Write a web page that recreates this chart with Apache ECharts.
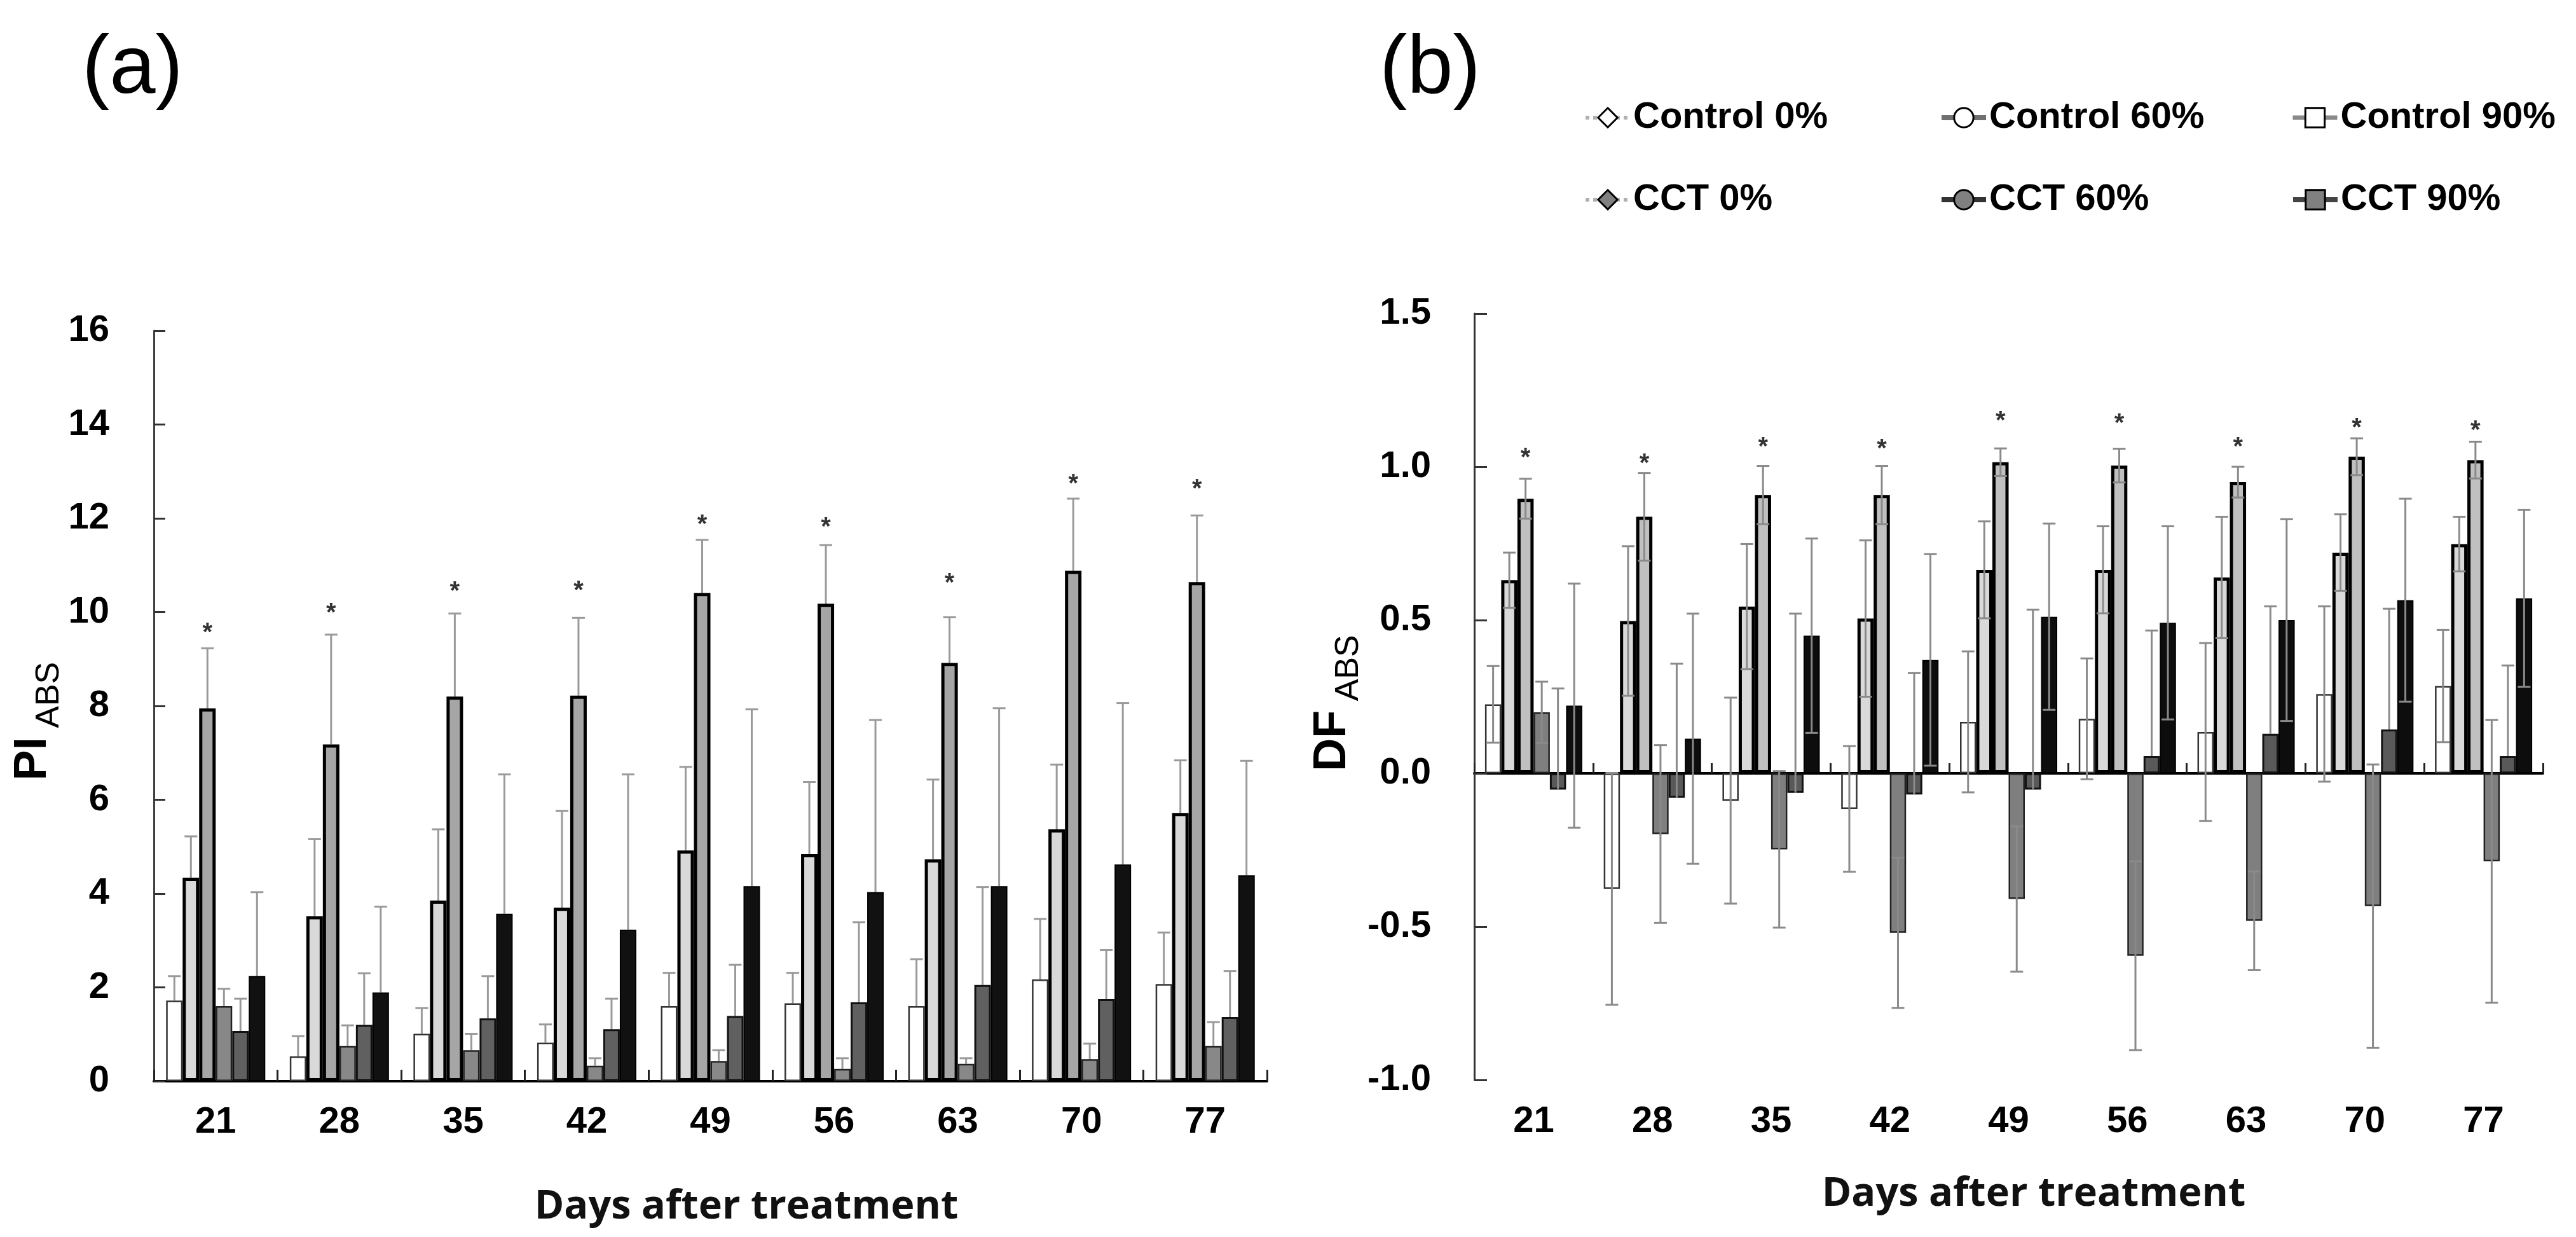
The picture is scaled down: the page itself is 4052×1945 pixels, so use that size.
<!DOCTYPE html>
<html><head><meta charset="utf-8">
<script src="https://cdn.jsdelivr.net/npm/echarts@6/dist/echarts.min.js"></script>
<style>html,body{margin:0;padding:0;background:#fff}#c{width:4052px;height:1945px}</style>
</head><body><div id="c"></div>
<script>
// ---------- data ----------
const days = ['21', '28', '35', '42', '49', '56', '63', '70', '77'];
const seriesNames = ['Control 0%', 'Control 60%', 'Control 90%', 'CCT 0%', 'CCT 60%', 'CCT 90%'];
const yTicksA = { min: 0, max: 16, interval: 2 };
const yTicksB = { min: -1, max: 1.5, interval: 0.5 };

// Panel (a): PI_ABS means and SE
const piControl0 = [1.72, 0.53, 1.01, 0.82, 1.60, 1.66, 1.60, 2.17, 2.07];
const piControl0Err = [0.52, 0.43, 0.55, 0.39, 0.71, 0.65, 1.00, 1.29, 1.10];
const piControl60 = [4.34, 3.52, 3.85, 3.70, 4.92, 4.84, 4.73, 5.37, 5.72];
const piControl60Err = [0.88, 1.64, 1.52, 2.06, 1.78, 1.54, 1.70, 1.38, 1.12];
const piControl90 = [7.95, 7.18, 8.20, 8.22, 10.41, 10.18, 8.92, 10.88, 10.64];
const piControl90Err = [1.28, 2.34, 1.77, 1.66, 1.13, 1.25, 0.97, 1.54, 1.42];
const piCct0 = [1.60, 0.75, 0.66, 0.33, 0.43, 0.26, 0.37, 0.47, 0.75];
const piCct0Err = [0.37, 0.44, 0.35, 0.16, 0.23, 0.23, 0.12, 0.33, 0.51];
const piCct60 = [1.07, 1.20, 1.34, 1.11, 1.39, 1.68, 2.05, 1.75, 1.37];
const piCct60Err = [0.69, 1.10, 0.90, 0.65, 1.09, 1.71, 2.09, 1.05, 0.98];
const piCct90 = [2.24, 1.89, 3.57, 3.23, 4.16, 4.03, 4.16, 4.62, 4.39];
const piCct90Err = [1.79, 1.83, 2.97, 3.31, 3.77, 3.67, 3.79, 3.44, 2.44];
const piStar = [9.68, 10.10, 10.56, 10.58, 11.99, 11.93, 10.74, 12.86, 12.75];

// Panel (b): DF_ABS means and SE
const dfControl0 = [0.225, -0.377, -0.089, -0.116, 0.168, 0.178, 0.135, 0.259, 0.285];
const dfControl0Err = [0.125, 0.378, 0.336, 0.205, 0.230, 0.197, 0.290, 0.286, 0.183];
const dfControl60 = [0.630, 0.497, 0.544, 0.505, 0.664, 0.664, 0.639, 0.720, 0.748];
const dfControl60Err = [0.090, 0.244, 0.204, 0.255, 0.158, 0.142, 0.198, 0.125, 0.089];
const dfControl90 = [0.896, 0.837, 0.908, 0.908, 1.015, 1.004, 0.950, 1.033, 1.022];
const dfControl90Err = [0.065, 0.143, 0.095, 0.095, 0.045, 0.055, 0.050, 0.060, 0.060];
const dfCct0 = [0.199, -0.198, -0.248, -0.520, -0.410, -0.595, -0.481, -0.433, -0.287];
const dfCct0Err = [0.100, 0.290, 0.255, 0.245, 0.237, 0.308, 0.161, 0.462, 0.461];
const dfCct60 = [-0.053, -0.080, -0.064, -0.069, -0.053, 0.056, 0.129, 0.143, 0.056];
const dfCct60Err = [0.330, 0.438, 0.585, 0.396, 0.587, 0.410, 0.416, 0.394, 0.296];
const dfCct90 = [0.221, 0.113, 0.449, 0.370, 0.511, 0.491, 0.500, 0.565, 0.571];
const dfCct90Err = [0.398, 0.408, 0.317, 0.345, 0.304, 0.315, 0.329, 0.331, 0.289];
const dfStar = [1.047, 1.029, 1.083, 1.077, 1.168, 1.159, 1.084, 1.145, 1.137];

// ---------- styling ----------
const FONT = 'Liberation Sans, Arial, sans-serif';
const NAMEFONT = 'Open Sans, Lato, sans-serif';
const piMeans = [piControl0, piControl60, piControl90, piCct0, piCct60, piCct90];
const piErrs = [piControl0Err, piControl60Err, piControl90Err, piCct0Err, piCct60Err, piCct90Err];
const dfMeans = [dfControl0, dfControl60, dfControl90, dfCct0, dfCct60, dfCct90];
const dfErrs = [dfControl0Err, dfControl60Err, dfControl90Err, dfCct0Err, dfCct60Err, dfCct90Err];
// minus whisker drawn? (panel b); panel a draws only the plus whisker
const dfMinusShown = [true, true, true, true, false, true];

const fillA = ['#ffffff', '#d9d9d9', '#a6a6a6', '#888888', '#606060', '#111111'];
const fillB = ['#ffffff', '#d9d9d9', '#c0c0c0', '#7f7f7f', '#595959', '#0d0d0d'];
const borderW = [2.5, 5, 5, 2.5, 3, 2];
const borderC = ['#333', '#000', '#000', '#222', '#111', '#000'];

const legendLine = [
  { color: '#b0b0b0', width: 6, type: 'dotted' },
  { color: '#707070', width: 8, type: 'solid' },
  { color: '#8a8a8a', width: 7, type: 'solid' },
  { color: '#b0b0b0', width: 6, type: 'dotted' },
  { color: '#333333', width: 8, type: 'solid' },
  { color: '#444444', width: 8, type: 'solid' }
];
const legendSymbol = ['diamond', 'circle', 'rect', 'diamond', 'circle', 'rect'];
const legendFill = ['#ffffff', '#ffffff', '#ffffff', '#808080', '#808080', '#808080'];
const legendLeft = [2491, 3050, 3603];
const legendTop = [156, 285];

const BAR_A = 26, BAR_B = 25.5;

function errTable(means, errs, minusShown) {
  const rows = [];
  for (let s = 0; s < means.length; s++) {
    for (let i = 0; i < days.length; i++) {
      rows.push([i, s, means[s][i], errs[s][i], minusShown ? (minusShown[s] ? errs[s][i] : 0) : 0]);
    }
  }
  return rows;
}

function errRenderer(barW, stars, color) {
  return function (params, api) {
    const cat = api.value(0), s = api.value(1), m = api.value(2), up = api.value(3), dn = api.value(4);
    const base = api.coord([cat, m]);
    const cx = base[0] + (s - 2.5) * barW;
    const yTop = api.coord([cat, m + up])[1];
    const yBot = api.coord([cat, m - dn])[1];
    const st = { stroke: color, lineWidth: 3 };
    const half = 10;
    const ch = [
      { type: 'line', shape: { x1: cx, y1: yTop, x2: cx, y2: dn > 0 ? yBot : base[1] }, style: st },
      { type: 'line', shape: { x1: cx - half, y1: yTop, x2: cx + half, y2: yTop }, style: st }
    ];
    if (dn > 0) ch.push({ type: 'line', shape: { x1: cx - half, y1: yBot, x2: cx + half, y2: yBot }, style: st });
    if (s === 2 && stars[cat] != null) {
      const ys = api.coord([cat, stars[cat]])[1];
      ch.push({ type: 'text', style: { text: '*', x: cx, y: ys + 10, align: 'center', verticalAlign: 'middle',
        fontSize: 40, fontWeight: 'bold', fontFamily: FONT, fill: '#333' } });
    }
    return { type: 'group', children: ch };
  };
}

const series = [];
// legend-only line series (Excel style line+marker legend keys)
seriesNames.forEach((n, k) => {
  series.push({ type: 'line', name: n, data: [], xAxisIndex: 0, yAxisIndex: 0,
    symbol: legendSymbol[k], symbolSize: 28,
    itemStyle: { color: legendFill[k], borderColor: '#000', borderWidth: 3 },
    lineStyle: legendLine[k] });
});
seriesNames.forEach((n, k) => {
  series.push({ type: 'bar', name: n, data: piMeans[k], xAxisIndex: 0, yAxisIndex: 0,
    barWidth: BAR_A, barGap: '0%',
    itemStyle: { color: fillA[k], borderColor: borderC[k], borderWidth: borderW[k] } });
});
seriesNames.forEach((n, k) => {
  series.push({ type: 'bar', name: n, data: dfMeans[k], xAxisIndex: 1, yAxisIndex: 1,
    barWidth: BAR_B, barGap: '0%',
    itemStyle: { color: fillB[k], borderColor: borderC[k], borderWidth: borderW[k] } });
});
series.push({ type: 'custom', name: 'errA', xAxisIndex: 0, yAxisIndex: 0, z: 1,
  data: errTable(piMeans, piErrs, null), renderItem: errRenderer(BAR_A, piStar, '#9a9a9a'), silent: true });
series.push({ type: 'custom', name: 'errB', xAxisIndex: 1, yAxisIndex: 1, z: 5,
  data: errTable(dfMeans, dfErrs, dfMinusShown), renderItem: errRenderer(BAR_B, dfStar, '#8a8a8a'), silent: true });

const tickLabel = { fontSize: 58, fontWeight: 'bold', color: '#000', fontFamily: FONT };

const option = {
  backgroundColor: '#ffffff',
  animation: false,
  title: [
    { text: '(a)', left: 129, top: 45, padding: 0, textStyle: { fontSize: 130, fontWeight: 'normal', color: '#000', fontFamily: FONT } },
    { text: '(b)', left: 2170, top: 45, padding: 0, textStyle: { fontSize: 130, fontWeight: 'normal', color: '#000', fontFamily: FONT } }
  ],
  legend: seriesNames.map((n, k) => ({
    data: [n], left: legendLeft[k % 3], top: legendTop[Math.floor(k / 3)],
    itemWidth: 70, itemHeight: 38, padding: 0, itemGap: 0,
    lineStyle: { width: legendLine[k].width, color: legendLine[k].color, type: legendLine[k].type },
    itemStyle: { color: legendFill[k], borderColor: '#000', borderWidth: 3 },
    textStyle: { fontSize: 58, fontWeight: 'bold', color: '#000', fontFamily: FONT }
  })),
  grid: [
    { left: 242, top: 520, width: 1751, height: 1180, outerBoundsMode: 'none' },
    { left: 2319, top: 493, width: 1681, height: 1205, outerBoundsMode: 'none' }
  ],
  xAxis: [
    { type: 'category', gridIndex: 0, data: days,
      axisLine: { show: true, lineStyle: { color: '#000', width: 4 } },
      axisTick: { show: true, inside: true, length: 18, lineStyle: { color: '#222', width: 3 } },
      axisLabel: Object.assign({ margin: 36, interval: 0 }, tickLabel),
      splitLine: { show: false },
      name: 'Days after treatment', nameLocation: 'middle', nameGap: 167,
      nameTextStyle: { fontSize: 63, fontWeight: 'bold', color: '#111', fontFamily: NAMEFONT, padding: [0, 0, 0, 113] } },
    { type: 'category', gridIndex: 1, data: days, position: 'bottom',
      axisLine: { show: false, onZero: false },
      axisTick: { show: false },
      axisLabel: Object.assign({ margin: 37, interval: 0 }, tickLabel),
      splitLine: { show: false },
      name: 'Days after treatment', nameLocation: 'middle', nameGap: 149,
      nameTextStyle: { fontSize: 63, fontWeight: 'bold', color: '#111', fontFamily: NAMEFONT, padding: [0, 0, 0, 79] } },
    { type: 'category', gridIndex: 1, data: days, position: 'bottom',
      axisLine: { show: true, onZero: true, lineStyle: { color: '#000', width: 4 } },
      axisTick: { show: true, inside: true, length: 16, lineStyle: { color: '#222', width: 3 } },
      axisLabel: { show: false },
      splitLine: { show: false } }
  ],
  yAxis: [
    { type: 'value', gridIndex: 0, min: yTicksA.min, max: yTicksA.max, interval: yTicksA.interval,
      axisLine: { show: true, lineStyle: { color: '#404040', width: 3 } },
      axisTick: { show: true, inside: true, length: 18, lineStyle: { color: '#333', width: 3 } },
      axisLabel: Object.assign({ margin: 70 }, tickLabel),
      splitLine: { show: false },
      name: '{a|PI}{b| ABS}', nameLocation: 'middle', nameRotate: 90, nameGap: 126,
      nameTextStyle: { padding: [0, 48, 0, 0], rich: {
        a: { fontSize: 72, fontWeight: 'bold', color: '#000', fontFamily: FONT, lineHeight: 75, verticalAlign: 'top' },
        b: { fontSize: 52, fontWeight: 'normal', color: '#000', fontFamily: FONT, lineHeight: 50, verticalAlign: 'top', padding: [35, 0, 0, 0] } } } },
    { type: 'value', gridIndex: 1, min: yTicksB.min, max: yTicksB.max, interval: yTicksB.interval,
      axisLine: { show: true, onZero: false, lineStyle: { color: '#333', width: 3 } },
      axisTick: { show: true, inside: true, length: 20, lineStyle: { color: '#333', width: 3 } },
      axisLabel: Object.assign({ margin: 68, formatter: v => v.toFixed(1) }, tickLabel),
      splitLine: { show: false },
      name: '{a|DF}{b| ABS}', nameLocation: 'middle', nameRotate: 90, nameGap: 153,
      nameTextStyle: { padding: [0, 20, 0, 0], rich: {
        a: { fontSize: 72, fontWeight: 'bold', color: '#000', fontFamily: FONT, lineHeight: 75, verticalAlign: 'top' },
        b: { fontSize: 52, fontWeight: 'normal', color: '#000', fontFamily: FONT, lineHeight: 50, verticalAlign: 'top', padding: [35, 0, 0, 0] } } } }
  ],
  series: series
};

const chart = echarts.init(document.getElementById('c'), null, { renderer: 'canvas' });
chart.setOption(option);
</script>
</body></html>
